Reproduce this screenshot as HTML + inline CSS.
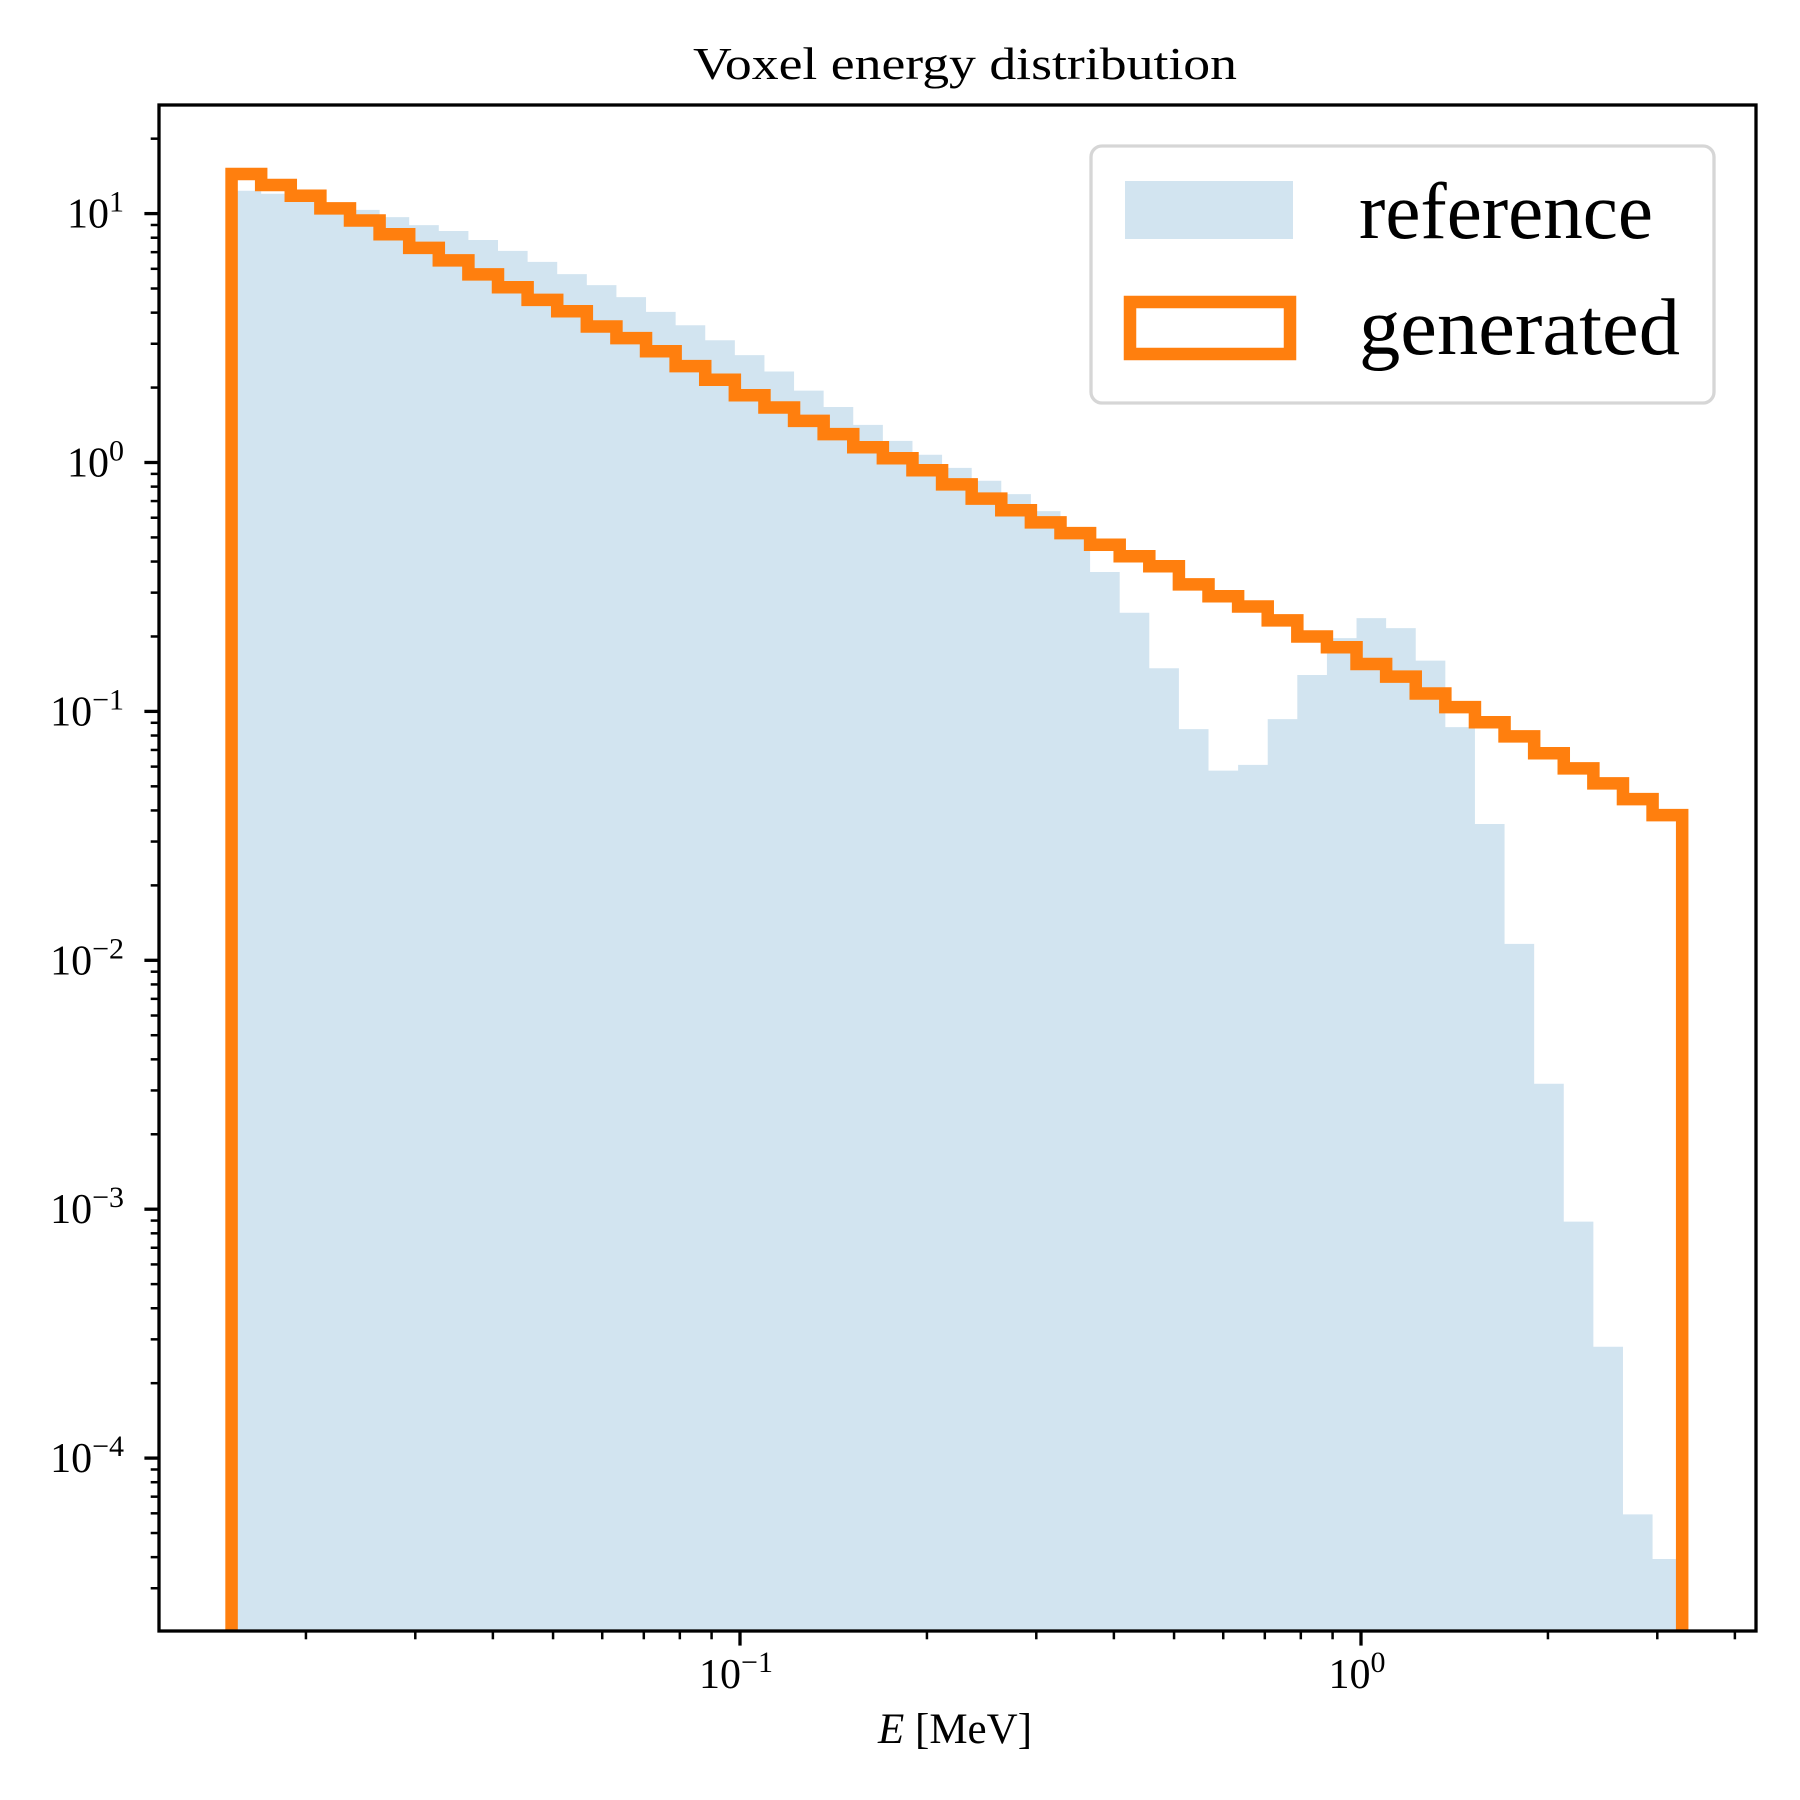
<!DOCTYPE html>
<html><head><meta charset="utf-8"><style>html,body{margin:0;padding:0;background:#fff}svg{display:block}</style></head>
<body>
<svg id="chart" xmlns="http://www.w3.org/2000/svg" width="1800" height="1800" viewBox="0 0 1800 1800" font-family="'Liberation Serif', serif">
<defs><clipPath id="clip"><rect x="159" y="105" width="1597" height="1526"/></clipPath></defs>
<rect width="1800" height="1800" fill="#fff"/>
<g id="plot" clip-path="url(#clip)"></g>
<g id="axes"></g>
<text x="965" y="79" font-size="46" text-anchor="middle" textLength="544" lengthAdjust="spacingAndGlyphs">Voxel energy distribution</text>
<text x="955" y="1743" font-size="43" text-anchor="middle"><tspan font-style="italic">E</tspan> [MeV]</text>
<g>
<rect x="1091" y="146" width="623" height="257" rx="11" fill="#fff" fill-opacity="0.8" stroke="#d6d6d6" stroke-width="3.3"/>
<rect x="1125" y="181" width="168" height="58" fill="#1f77b4" fill-opacity="0.2"/>
<text x="1359" y="238" font-size="80" textLength="294" lengthAdjust="spacingAndGlyphs">reference</text>
<rect x="1130" y="302" width="160" height="52" fill="none" stroke="#ff7f0e" stroke-width="12.5"/>
<text x="1359" y="354" font-size="80" textLength="321" lengthAdjust="spacingAndGlyphs">generated</text>
</g>
</svg>
<script>
const NS = "http://www.w3.org/2000/svg";
const binMin = 0.01518;
const binMax = 3.29;
const binCount = 49;
const referenceValues = [12.36, 12.02, 11.35, 10.72, 10.35, 9.68, 8.99, 8.51, 7.83, 7.08, 6.40, 5.71, 5.16, 4.62, 4.03, 3.56, 3.10, 2.70, 2.32, 1.945, 1.671, 1.416, 1.222, 1.074, 0.951, 0.845, 0.746, 0.638, 0.501, 0.363, 0.249, 0.149, 0.0849, 0.0578, 0.0610, 0.0931, 0.140, 0.197, 0.237, 0.216, 0.160, 0.0865, 0.0353, 0.01164, 0.00319, 0.000891, 0.000280, 0.0000594, 0.0000393];
const generatedValues = [14.42, 13.03, 11.80, 10.50, 9.38, 8.26, 7.28, 6.49, 5.70, 5.06, 4.50, 4.05, 3.52, 3.16, 2.80, 2.44, 2.15, 1.862, 1.663, 1.469, 1.300, 1.151, 1.040, 0.931, 0.817, 0.716, 0.643, 0.575, 0.520, 0.467, 0.420, 0.383, 0.324, 0.290, 0.264, 0.232, 0.200, 0.181, 0.155, 0.138, 0.118, 0.104, 0.0904, 0.0794, 0.0679, 0.0590, 0.0514, 0.0444, 0.0383];
const xTickExps = [-1, 0];
const yTickExps = [1, 0, -1, -2, -3, -4];

const X0 = 159, X1 = 1756, Y0 = 105, Y1 = 1631;
function xs(v){ return 1361 + Math.log10(v) * 621; }
function ys(v){ return 213.6 + (1 - Math.log10(v)) * 248.9; }
const xMinV = Math.pow(10, (X0 - 1361) / 621), xMaxV = Math.pow(10, (X1 - 1361) / 621);
const yMinV = Math.pow(10, 1 - (Y1 - 213.6) / 248.9), yMaxV = Math.pow(10, 1 - (Y0 - 213.6) / 248.9);

const lo = Math.log10(binMin), hi = Math.log10(binMax);
const edges = [];
for (let i = 0; i <= binCount; i++) edges.push(Math.pow(10, lo + (hi - lo) * i / binCount));

const plot = document.getElementById('plot');
const axes = document.getElementById('axes');
const bottom = Y1 + 40;

let d = `M${xs(edges[0])},${bottom}`;
referenceValues.forEach((v, i) => { d += ` L${xs(edges[i])},${ys(v)} L${xs(edges[i+1])},${ys(v)}`; });
d += ` L${xs(edges[binCount])},${bottom} Z`;
const ref = document.createElementNS(NS, 'path');
ref.setAttribute('d', d);
ref.setAttribute('fill', '#1f77b4');
ref.setAttribute('fill-opacity', '0.2');


plot.appendChild(ref);

let g = `M${xs(edges[0])},${bottom}`;
generatedValues.forEach((v, i) => { g += ` L${xs(edges[i])},${ys(v)} L${xs(edges[i+1])},${ys(v)}`; });
g += ` L${xs(edges[binCount])},${bottom}`;
const gen = document.createElementNS(NS, 'path');
gen.setAttribute('d', g);
gen.setAttribute('fill', 'none');
gen.setAttribute('stroke', '#ff7f0e');
gen.setAttribute('stroke-width', '12.5');
gen.setAttribute('stroke-linejoin', 'miter');


plot.appendChild(gen);

function line(x1, y1, x2, y2, w, name){
  const l = document.createElementNS(NS, 'line');
  l.setAttribute('x1', x1); l.setAttribute('y1', y1); l.setAttribute('x2', x2); l.setAttribute('y2', y2);
  l.setAttribute('stroke', '#000'); l.setAttribute('stroke-width', w);
  
  
  axes.appendChild(l);
}
function label(x, y, exp, anchor, name){
  const t = document.createElementNS(NS, 'text');
  t.setAttribute('x', x); t.setAttribute('y', y);
  t.setAttribute('font-size', '42');
  t.setAttribute('text-anchor', anchor);
  
  
  const s = exp < 0 ? '\u2212' + Math.abs(exp) : String(exp);
  t.innerHTML = `10<tspan font-size="30" dy="-16">${s}</tspan>`;
  axes.appendChild(t);
}

for (let e = -2; e <= 1; e++) {
  for (let m = 1; m <= 9; m++) {
    const v = m * Math.pow(10, e);
    if (v < xMinV || v > xMaxV) continue;
    const x = xs(v);
    if (m === 1) line(x, Y1, x, Y1 + 14.6, 3.3, 'x-major-tick');
    else line(x, Y1, x, Y1 + 8.3, 2.5, 'x-minor-tick');
  }
}
xTickExps.forEach(e => label(xs(Math.pow(10, e)) - 4, 1688, e, 'middle', 'x-tick-label'));

for (let e = -5; e <= 1; e++) {
  for (let m = 1; m <= 9; m++) {
    const v = m * Math.pow(10, e);
    if (v < yMinV || v > yMaxV) continue;
    const y = ys(v);
    if (m === 1) line(X0, y, X0 - 14.6, y, 3.3, 'y-major-tick');
    else line(X0, y, X0 - 8.3, y, 2.5, 'y-minor-tick');
  }
}
yTickExps.forEach(e => label(124, ys(Math.pow(10, e)) + 14, e, 'end', 'y-tick-label'));

const frame = document.createElementNS(NS, 'rect');
frame.setAttribute('x', X0); frame.setAttribute('y', Y0);
frame.setAttribute('width', X1 - X0); frame.setAttribute('height', Y1 - Y0);
frame.setAttribute('fill', 'none'); frame.setAttribute('stroke', '#000'); frame.setAttribute('stroke-width', '3.3');


axes.appendChild(frame);
</script>
</body></html>
